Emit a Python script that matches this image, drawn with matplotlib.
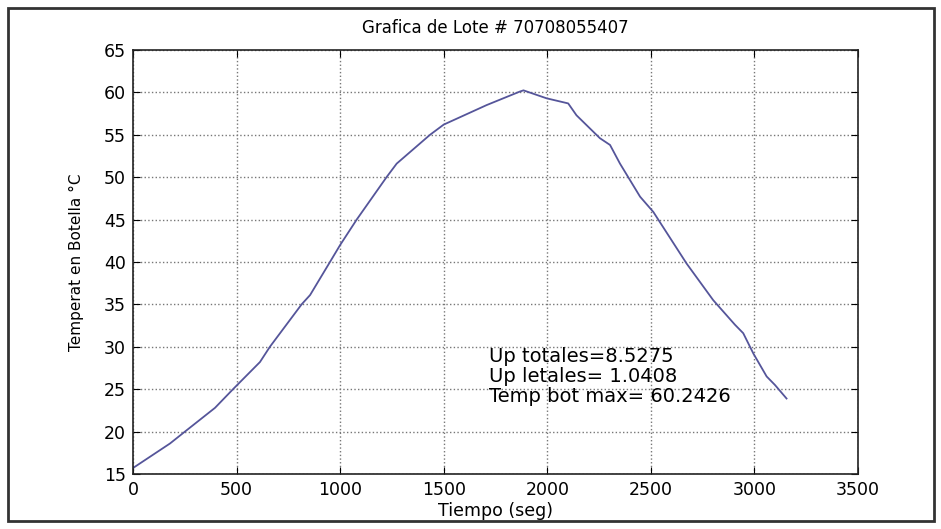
import numpy as np
import matplotlib.pyplot as plt
from matplotlib.patches import Rectangle

plt.rcParams['font.family'] = ['DejaVu Sans']

# data
tiempo = [0, 179, 251, 396, 483, 613, 661, 814, 855, 951, 1000, 1080, 1224, 1273,
          1434, 1500, 1707, 1868, 1885, 1997, 2101, 2141, 2254, 2303, 2351, 2448,
          2512, 2673, 2801, 2906, 2946, 2995, 3059, 3099, 3155]
temp = [15.7, 18.6, 20.0, 22.8, 25.0, 28.2, 30.0, 35.0, 36.1, 40.0, 42.0, 45.0, 50.0, 51.6,
        55.0, 56.2, 58.5, 60.1, 60.24, 59.3, 58.7, 57.3, 54.6, 53.8, 51.6, 47.7,
        45.9, 39.8, 35.5, 32.6, 31.6, 29.2, 26.5, 25.5, 23.9]
xticks = [0, 500, 1000, 1500, 2000, 2500, 3000, 3500]
yticks = [15, 20, 25, 30, 35, 40, 45, 50, 55, 60, 65]
info = ["Up totales=8.5275", "Up letales= 1.0408", "Temp bot max= 60.2426"]

fig = plt.figure(figsize=(9.41, 5.29), dpi=100)
ax = fig.add_axes([0.1413, 0.104, 0.7705, 0.8015])

ax.plot(tiempo, temp, color='#55559a', linewidth=1.3)

ax.set_xlim(0, 3500)
ax.set_ylim(15, 65)
ax.set_xticks(xticks)
ax.set_yticks(yticks)
ax.grid(True, linestyle=':', color='#777777', linewidth=1.0)
ax.tick_params(direction='in', top=True, right=True, length=5, labelsize=12.5, pad=5)
for s in ax.spines.values():
    s.set_linewidth(1.2)
    s.set_color('#222222')

ax.set_title("Grafica de Lote # 70708055407", fontsize=12, pad=12)
ax.set_xlabel("Tiempo (seg)", fontsize=12.5, labelpad=2)
ax.set_ylabel("Temperat en Botella °C", fontsize=11, labelpad=14)

for i, t in enumerate(info):
    ax.text(1720, 28.8 - i * 2.35, t, fontsize=14, va='center', ha='left')

# outer frame of the scanned page
fig.patches.append(Rectangle((0.008, 0.015), 0.985, 0.97, transform=fig.transFigure,
                             fill=False, edgecolor='#333333', linewidth=2.0))

fig.savefig("out.png", dpi=100)
